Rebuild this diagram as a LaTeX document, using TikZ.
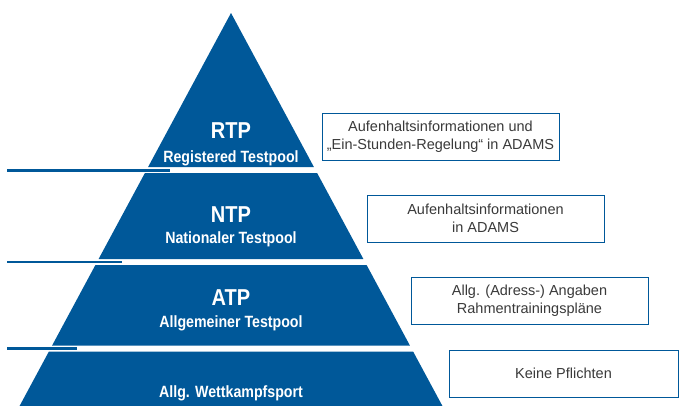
\documentclass[tikz,border=0pt]{standalone}
\usepackage{fontspec}
\setmainfont{Liberation Sans}
\newfontfamily\condfont[FakeStretch=0.87]{Liberation Sans}
\definecolor{pyrblue}{RGB}{0,88,153}
\definecolor{boxtext}{RGB}{58,58,58}
\begin{document}
\begin{tikzpicture}[x=1pt,y=-1pt,
  layer/.style={fill=pyrblue,draw=none},
  bigtitle/.style={text=white,anchor=base,inner sep=0pt,font=\condfont\bfseries\fontsize{23}{25}\selectfont},
  subtitle/.style={text=white,anchor=base,inner sep=0pt,font=\condfont\bfseries\fontsize{16.3}{18}\selectfont},
  infobox/.style={draw=pyrblue,line width=0.9pt,fill=white,minimum height=47pt,align=center,text=boxtext,inner sep=0pt,font=\fontsize{14.5}{18}\selectfont},
  sepline/.style={draw=pyrblue,line width=2.2pt}]
\useasboundingbox (0,0) rectangle (679,405);
\begin{scope}
\clip (0,0) rectangle (679,405);
% pyramid layers
\fill[layer] (231,13) -- (313.9,167) -- (148.1,167) -- cycle;
\fill[layer] (144.9,173) -- (317.1,173) -- (363.4,259) -- (98.6,259) -- cycle;
\fill[layer] (95.4,265) -- (366.6,265) -- (409.9,345.5) -- (52.1,345.5) -- cycle;
\fill[layer] (48.9,351.5) -- (413.1,351.5) -- (444.6,410) -- (17.4,410) -- cycle;
% separator lines
\draw[sepline] (7,170.5) -- (170,170.5);
\draw[sepline] (7,262) -- (122,262);
\draw[sepline] (7,348.5) -- (77,348.5);
% boxes
\node[infobox,minimum width=237pt] (b1) at (440.5,136.5) {Aufenhaltsinformationen und\\\char"201E Ein-Stunden-Regelung\char"201C{} in ADAMS};
\node[infobox,minimum width=237pt] (b2) at (485.5,218.5) {Aufenhaltsinformationen\\in ADAMS};
\node[infobox,minimum width=237pt] (b3) at (529.5,300.5) {Allg. (Adress-) Angaben\\Rahmentrainingspl\"ane};
\node[infobox,minimum width=229pt] (b4) at (563.5,373.5) {Keine Pflichten};
\end{scope}
% labels
\node[bigtitle] (rtp) at (231,138) {RTP};
\node[subtitle] (rtps) at (231,162) {Registered Testpool};
\node[bigtitle] (ntp) at (231,222) {NTP};
\node[subtitle] (ntps) at (231,243) {Nationaler Testpool};
\node[bigtitle] (atp) at (231,305) {ATP};
\node[subtitle] (atps) at (231,327) {Allgemeiner Testpool};
\node[subtitle] (wks) at (231,397) {Allg. Wettkampfsport};
\end{tikzpicture}
\end{document}
